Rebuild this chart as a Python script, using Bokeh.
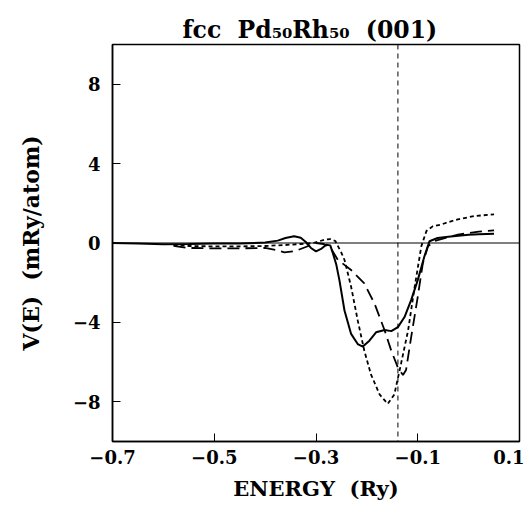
from bokeh.plotting import figure
from bokeh.models import FixedTicker, Span, Title, LinearAxis
from bokeh.embed import file_html
from bokeh.resources import INLINE

# ---- data ----
solid_x = [-0.70, -0.65, -0.60, -0.55, -0.50, -0.45, -0.40, -0.375, -0.36, -0.343, -0.33, -0.32, -0.31, -0.30,
           -0.29, -0.28, -0.272, -0.267, -0.26, -0.254, -0.244, -0.231, -0.218, -0.208, -0.195, -0.182, -0.165,
           -0.152, -0.139, -0.126, -0.113, -0.10, -0.087, -0.077, -0.061, -0.04, -0.02, 0.0, 0.02, 0.05]
solid_y = [0.0, -0.03, -0.06, -0.05, -0.03, -0.02, 0.02, 0.12, 0.25, 0.34, 0.26, 0.05, -0.25, -0.42,
           -0.3, -0.09, -0.12, -0.5, -1.1, -1.87, -3.4, -4.58, -5.09, -5.22, -4.92, -4.5, -4.38,
           -4.44, -4.24, -3.73, -2.88, -1.87, -0.68, 0.09, 0.25, 0.32, 0.37, 0.41, 0.44, 0.47]

dash_x = [-0.58, -0.55, -0.50, -0.45, -0.40, -0.38, -0.362, -0.34, -0.32, -0.30, -0.285, -0.27, -0.257,
          -0.231, -0.205, -0.185, -0.165, -0.152, -0.139, -0.129, -0.123, -0.113, -0.10, -0.09, -0.08,
          -0.067, -0.054, -0.04, -0.021, 0.0, 0.02, 0.05]
dash_y = [-0.15, -0.25, -0.27, -0.27, -0.25, -0.35, -0.47, -0.4, -0.2, 0.0, -0.05, -0.3, -0.85,
          -1.36, -2.04, -3.05, -4.41, -5.43, -6.28, -6.65, -6.4, -4.75, -2.71, -1.02, -0.17,
          0.1, 0.2, 0.3, 0.42, 0.5, 0.57, 0.64]

dot_x = [-0.58, -0.55, -0.50, -0.45, -0.40, -0.36, -0.33, -0.305, -0.292, -0.282, -0.272, -0.262, -0.25,
         -0.244, -0.231, -0.218, -0.205, -0.192, -0.175, -0.159, -0.146, -0.133, -0.119, -0.106, -0.093,
         -0.083, -0.07, -0.054, -0.04, -0.021, 0.0, 0.012, 0.05]
dot_y = [-0.1, -0.15, -0.17, -0.17, -0.15, -0.1, -0.05, 0.0, 0.1, 0.17, 0.2, 0.1, -0.5,
         -0.85, -2.2, -3.9, -5.43, -6.62, -7.63, -8.1, -7.63, -6.1, -4.41, -2.2, -0.17,
         0.6, 0.85, 0.93, 1.05, 1.19, 1.3, 1.36, 1.44]

fermi_energy = -0.139

x_ticks = [-0.7, -0.5, -0.3, -0.1, 0.1]
x_tick_labels = ["\u22120.7", "\u22120.5", "\u22120.3", "\u22120.1", "0.1"]
y_ticks = [-8, -4, 0, 4, 8]
y_tick_labels = ["\u22128", "\u22124", "0", "4", "8"]

title_text = "fcc\u00a0\u00a0Pd\u2085\u2080Rh\u2085\u2080\u00a0\u00a0(001)"

FONT = "DejaVu Serif"
W = 524
H = 503

p = figure(width=W, height=H, x_range=(-0.7, 0.1), y_range=(-10, 10),
           output_backend="svg", toolbar_location=None,
           min_border_left=112, min_border_right=W - 519, min_border_top=44, min_border_bottom=H - 441)
p.xgrid.visible = False
p.ygrid.visible = False
p.outline_line_color = "black"
p.outline_line_width = 1.5
p.background_fill_color = "white"
p.border_fill_color = "white"

xax = p.below[0]
yax = p.left[0]

p.add_layout(Title(text=title_text, align="left", offset=70, standoff=2,
                   text_font=FONT, text_font_size="23.5px", text_font_style="bold",
                   text_color="black"), "above")

# empty spacer axis between frame and title (no ticks, no labels, no line)
spacer = LinearAxis(ticker=FixedTicker(ticks=[]), axis_line_color=None,
                    major_tick_in=0, major_tick_out=0, minor_tick_in=0, minor_tick_out=0,
                    major_label_standoff=11)
p.add_layout(spacer, "above")

for ax in (xax, yax):
    ax.major_tick_in = 8
    ax.major_tick_out = 0
    ax.minor_tick_in = 0
    ax.minor_tick_out = 0
    ax.axis_line_color = "black"
    ax.axis_line_width = 1.5
    ax.major_tick_line_color = "black"
    ax.major_tick_line_width = 1
    ax.major_label_text_font = FONT
    ax.major_label_text_font_size = "18px"
    ax.major_label_text_font_style = "bold"
    ax.major_label_text_color = "black"
    ax.axis_label_text_font = FONT
    ax.axis_label_text_font_style = "bold"
    ax.axis_label_text_color = "black"

xax.axis_label_text_font_size = "21px"
yax.axis_label_text_font_size = "22px"
xax.ticker = FixedTicker(ticks=x_ticks)
xax.major_label_overrides = dict(zip(x_ticks, x_tick_labels))
yax.ticker = FixedTicker(ticks=y_ticks)
yax.major_label_overrides = dict(zip(y_ticks, y_tick_labels))
xax.axis_label = "ENERGY\u00a0\u00a0(Ry)"
yax.axis_label = "V(E)\u00a0\u00a0(mRy/atom)"
xax.major_label_standoff = 8
xax.axis_label_standoff = 9
yax.major_label_standoff = 12
yax.axis_label_standoff = 26

p.add_layout(Span(location=0, dimension="width", line_color="black", line_width=1))
p.add_layout(Span(location=fermi_energy, dimension="height", line_color="black",
                  line_width=1, line_dash="5 4"))

p.line(solid_x, solid_y, line_color="black", line_width=2)
p.line(dash_x, dash_y, line_color="black", line_width=1.8, line_dash="12 6")
p.line(dot_x, dot_y, line_color="black", line_width=1.8, line_dash="4 3")

open("out.html", "w").write(file_html(p, INLINE))
